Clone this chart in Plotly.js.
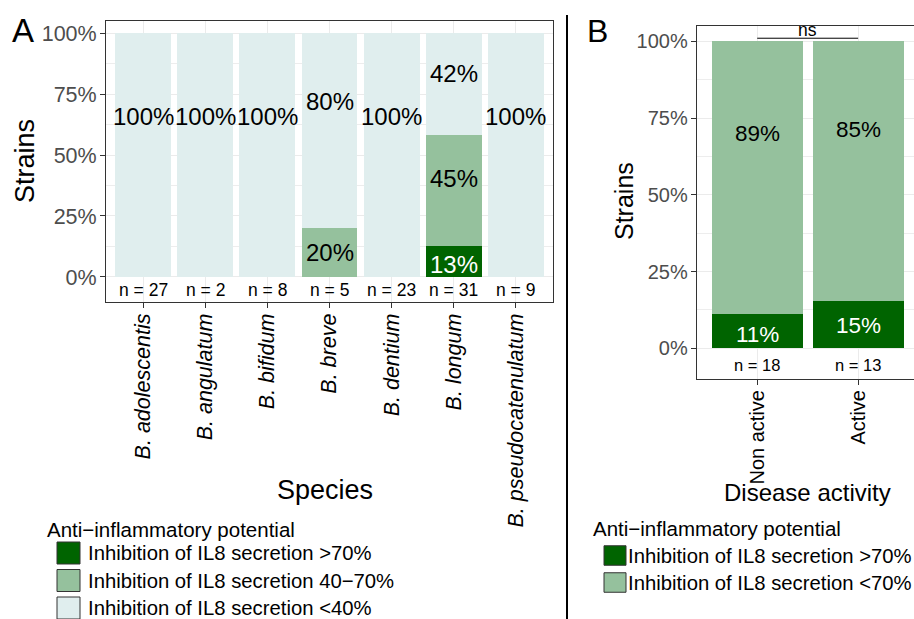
<!DOCTYPE html>
<html>
<head>
<meta charset="utf-8">
<script src="https://cdn.plot.ly/plotly-3.0.1.min.js"></script>
<style>html,body{margin:0;padding:0;background:#fff;}#chart{width:914px;height:619px;}</style>
</head>
<body>
<div id="chart"></div>
<script>
// ---- data ----
const speciesCats = ['B. adolescentis','B. angulatum','B. bifidum','B. breve','B. dentium','B. longum','B. pseudocatenulatum'];
const speciesHigh = [0,0,0,0,0,4,0];      // >70%
const speciesMid  = [0,0,0,1,0,14,0];     // 40-70%
const speciesLow  = [27,2,8,4,23,13,9];   // <40%
const activityCats = ['Non active','Active'];
const activityHigh = [2,2];               // >70%
const activityLow  = [16,11];             // <70%
const seriesNamesA = ['Inhibition of IL8 secretion >70%','Inhibition of IL8 secretion 40\u221270%','Inhibition of IL8 secretion <40%'];
const seriesNamesB = ['Inhibition of IL8 secretion >70%','Inhibition of IL8 secretion <70%'];
const legendTitle = 'Anti\u2212inflammatory potential';
const yTickVals = [0,25,50,75,100];
const yTickText = ['0%','25%','50%','75%','100%'];
const testLabel = 'ns';

// ---- styles ----
const FONT = 'Liberation Sans, Arial, sans-serif';
const colsA = ['#006400','#95C19D','#E0EEEE'];
const colsB = ['#006400','#95C19D'];
const W = 914, H = 619;
const px = v => v / W;
const py = v => 1 - v / H;

function pctSeries(groups) {
  const n = groups[0].map((_, i) => groups.reduce((s, g) => s + g[i], 0));
  return { n, pct: groups.map(g => g.map((v, i) => 100 * v / n[i])) };
}
const A = pctSeries([speciesHigh, speciesMid, speciesLow]);
const B = pctSeries([activityHigh, activityLow]);

const traces = [];
const annotations = [];
const shapes = [];

function addPanel(cats, data, names, cols, xa, ya, labelSize, nSize) {
  data.pct.forEach((p, s) => {
    traces.push({
      type: 'bar', x: cats, y: p, name: names[s], width: 0.9,
      marker: { color: cols[s], line: { width: 0 } },
      xaxis: xa, yaxis: ya, showlegend: false, hoverinfo: 'x+y+name'
    });
  });
  cats.forEach((c, i) => {
    let base = 0;
    data.pct.forEach((p, s) => {
      const v = p[i];
      if (v > 0) {
        annotations.push({
          xref: xa, yref: ya, x: c, y: base + 0.7 * v, yshift: -10,
          text: Math.round(v) + '%', showarrow: false, xanchor: 'center', yanchor: 'middle',
          font: { family: FONT, size: labelSize, color: s === 0 ? '#ffffff' : '#000000' }
        });
      }
      base += v;
    });
    annotations.push({
      xref: xa, yref: ya, x: c, y: -5.5, text: 'n = ' + data.n[i], showarrow: false,
      xanchor: 'center', yanchor: 'middle', font: { family: FONT, size: nSize, color: '#000' }
    });
  });
}
addPanel(speciesCats, A, seriesNamesA, colsA, 'x', 'y', 24, 17.5);
addPanel(activityCats, B, seriesNamesB, colsB, 'x2', 'y2', 22.5, 16.5);

// significance bracket
shapes.push({ type: 'line', xref: 'x2', yref: 'y2', x0: 0, x1: activityCats.length - 1, y0: 101, y1: 101,
  line: { color: '#000', width: 1 } });
annotations.push({ xref: 'x2', yref: 'y2', x: (activityCats.length - 1) / 2, y: 101, yshift: -4, text: testLabel,
  showarrow: false, xanchor: 'center', yanchor: 'bottom', font: { family: FONT, size: 17.5, color: '#000' } });

// panel letters, axis titles
function txt(x, y, t, size, opts) {
  annotations.push(Object.assign({ xref: 'paper', yref: 'paper', x: px(x), y: py(y), text: t, showarrow: false,
    xanchor: 'center', yanchor: 'middle', font: { family: FONT, size: size, color: '#000' } }, opts || {}));
}
txt(23, 30, 'A', 33);
txt(597, 31, 'B', 32);
txt(25, 161, 'Strains', 27, { textangle: -90 });
txt(624, 201, 'Strains', 25, { textangle: -90 });
txt(325, 490, 'Species', 27);
txt(807, 493, 'Disease activity', 24);

// divider
shapes.push({ type: 'line', xref: 'paper', yref: 'paper', x0: px(567), x1: px(567), y0: py(15), y1: 0,
  line: { color: '#000', width: 2 } });

// legends
function legend(x0, titleY, swX, swW, swH, textX, itemY, names, cols) {
  txt(x0, titleY, legendTitle, 20.5, { xanchor: 'left' });
  names.forEach((nm, i) => {
    shapes.push({ type: 'rect', xref: 'paper', yref: 'paper',
      x0: px(swX), x1: px(swX + swW), y0: py(itemY[i] - swH / 2), y1: py(itemY[i] + swH / 2),
      fillcolor: cols[i], line: { color: '#333', width: 1 } });
    txt(textX, itemY[i], nm, 20.3, { xanchor: 'left' });
  });
}
legend(45, 529, 57, 23, 22, 86, [553, 580.5, 608], seriesNamesA, colsA);
legend(591, 528, 604, 22, 19.5, 626, [555.5, 582.5], seriesNamesB, colsB);

const axisCommon = {
  showline: true, linecolor: '#333', linewidth: 1, ticks: 'outside', ticklen: 5, tickcolor: '#333',
  tickwidth: 1, showgrid: true, gridcolor: '#ebebeb', gridwidth: 1, zeroline: false, automargin: false, fixedrange: true
};
function yAxis(domain, range, size) {
  return Object.assign({}, axisCommon, {
    domain, range, tickmode: 'array', tickvals: yTickVals, ticktext: yTickText, mirror: true,
    ticklabelstandoff: -1,
    tickfont: { family: FONT, size: size, color: '#4d4d4d' },
    minor: { tickmode: 'array', tickvals: yTickVals.slice(0, -1).map((v, i) => (v + yTickVals[i + 1]) / 2),
      showgrid: true, gridcolor: '#ededed', gridwidth: 1, ticks: '' }
  });
}

const layout = {
  width: W, height: H, margin: { l: 0, r: 0, t: 0, b: 0, pad: 0 },
  paper_bgcolor: '#fff', plot_bgcolor: '#fff', barmode: 'stack', showlegend: false,
  xaxis: Object.assign({}, axisCommon, {
    domain: [px(106), px(553)], range: [-0.6, speciesCats.length - 0.4], type: 'category', mirror: true,
    tickangle: -90, ticklabelstandoff: -3,
    tickfont: { family: FONT, size: 21.5, color: '#000', style: 'italic' }, anchor: 'y'
  }),
  yaxis: Object.assign(yAxis([py(302), py(21)], [-10.25, 104.92], 21.5), { anchor: 'x' }),
  xaxis2: Object.assign({}, axisCommon, {
    domain: [px(696.7), 1], range: [-0.6, 1.554], type: 'category', mirror: true,
    tickangle: -90, ticklabelstandoff: -3,
    tickfont: { family: FONT, size: 20, color: '#000' }, anchor: 'y2'
  }),
  yaxis2: Object.assign(yAxis([py(379), py(25.7)], [-10.0, 105.08], 20), { anchor: 'x2', mirror: false }),
  annotations, shapes
};

Plotly.newPlot('chart', traces, layout, { displayModeBar: false, staticPlot: true });
</script>
</body>
</html>
